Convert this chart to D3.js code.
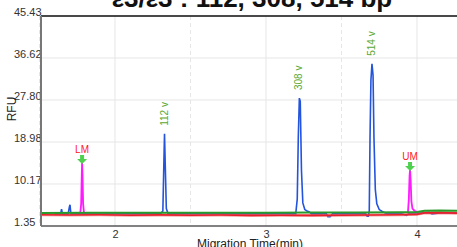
<!DOCTYPE html>
<html>
<head>
<meta charset="utf-8">
<script src="https://cdn.jsdelivr.net/npm/d3@7"></script>
<style>
  body { margin: 0; background: #fff; overflow: hidden; }
  svg { display: block; font-family: "Liberation Sans", Arial, sans-serif; }
</style>
</head>
<body>
<div id="chart"></div>
<script>
// axis ticks
const xTicks = [2, 3, 4];
const xHalfTicks = [1.5, 2.5, 3.5];
const yTicks = [1.35, 10.17, 18.98, 27.8, 36.62, 45.43];

// traces: [migration time (min), RFU]
const blueTrace = [
  [1.60, 3.9], [1.640, 3.9], [1.646, 4.9], [1.652, 3.9], [1.690, 3.9], [1.697, 5.2],
  [1.702, 5.8], [1.708, 3.9], [2.300, 3.9], [2.317, 4.5], [2.324, 15], [2.328, 20.7],
  [2.333, 14], [2.340, 5], [2.352, 3.9], [3.197, 3.9], [3.207, 7], [3.214, 20],
  [3.221, 28.2], [3.227, 27.5], [3.235, 13], [3.244, 6.2], [3.257, 4.8], [3.272, 4.5],
  [3.287, 4.3], [3.302, 3.9], [3.400, 3.9], [3.410, 3.3], [3.425, 3.3], [3.440, 3.9],
  [3.660, 3.9], [3.670, 3.4], [3.678, 3.4], [3.684, 4.5], [3.689, 20], [3.695, 32],
  [3.702, 35.4], [3.709, 33], [3.715, 20], [3.724, 9], [3.734, 6], [3.750, 4.8],
  [3.770, 4.4], [3.790, 4.1], [3.810, 3.9], [3.900, 3.9], [3.930, 3.6], [3.945, 3.9],
  [4.080, 4.2], [4.100, 3.9], [4.150, 4.1], [4.265, 4.1]
];
const pinkTrace = [
  [1.770, 4.0], [1.776, 6], [1.780, 12], [1.782, 14.6], [1.785, 12], [1.789, 6], [1.795, 4.0],
  [3.940, 4.1], [3.946, 7], [3.951, 12], [3.954, 13.1], [3.958, 11], [3.963, 6.5],
  [3.970, 5.0], [3.985, 4.5], [4.000, 4.3]
];
const redTrace = [
  [1.51, 3.7], [1.70, 3.65], [1.90, 3.7], [2.10, 3.62], [2.30, 3.68], [2.50, 3.6],
  [2.70, 3.65], [2.90, 3.58], [3.10, 3.62], [3.30, 3.58], [3.50, 3.62], [3.70, 3.66],
  [3.90, 3.72], [4.00, 3.8], [4.05, 4.1], [4.15, 4.15], [4.265, 4.05]
];
const greenTrace = [
  [1.51, 4.1], [1.80, 4.15], [2.10, 4.15], [2.40, 4.12], [2.70, 4.15], [3.00, 4.15],
  [3.30, 4.17], [3.60, 4.2], [3.90, 4.25], [4.00, 4.3], [4.05, 4.55], [4.15, 4.6], [4.265, 4.55]
];
const peakLabels = [
  { t: 2.328, v: 20.7, text: "112 v" },
  { t: 3.221, v: 28.2, text: "308 v" },
  { t: 3.702, v: 35.4, text: "514 v" }
];
const markers = [
  { t: 1.782, v: 14.6, text: "LM" },
  { t: 3.954, v: 13.1, text: "UM" }
];

const W = 457, H = 247;
const svg = d3.select("#chart").append("svg").attr("width", W).attr("height", H);

const plotLeft = 41, plotTop = 16, plotBottom = 226;
const x = d3.scaleLinear().domain([1.51, 4.265]).range([plotLeft, W]);
const y = d3.scaleLinear().domain([1.35, 45.43]).range([plotBottom, plotTop]);

// grid
svg.append("g")
  .selectAll("line")
  .data(yTicks)
  .join("line")
  .attr("x1", plotLeft).attr("x2", W)
  .attr("y1", (d) => y(d)).attr("y2", (d) => y(d))
  .attr("stroke", "#e6e6e6");
svg.append("g")
  .selectAll("line")
  .data(xTicks)
  .join("line")
  .attr("x1", (d) => x(d)).attr("x2", (d) => x(d))
  .attr("y1", plotTop).attr("y2", plotBottom)
  .attr("stroke", "#e6e6e6");
svg.append("g")
  .selectAll("line")
  .data(xHalfTicks)
  .join("line")
  .attr("x1", (d) => x(d)).attr("x2", (d) => x(d))
  .attr("y1", plotTop).attr("y2", plotBottom)
  .attr("stroke", "#e6e6e6")
  .attr("stroke-dasharray", "4,3");

// y tick labels (left aligned, baseline on grid line)
svg.append("g")
  .selectAll("text")
  .data(yTicks)
  .join("text")
  .attr("x", 14)
  .attr("y", (d) => y(d))
  .style("font-size", "11px")
  .attr("fill", "#333")
  .text((d) => d.toFixed(2));

// x axis
const xAxis = svg.append("g")
  .attr("transform", `translate(0,${plotBottom})`)
  .call(d3.axisBottom(x).tickValues(xTicks).tickSize(0).tickPadding(4).tickFormat(d3.format("d")));
xAxis.select(".domain").remove();
xAxis.selectAll("text").style("font-size", "11px").attr("fill", "#333")
  .style("font-family", "Liberation Sans, Arial, sans-serif");

const line = d3.line().x((d) => x(d[0])).y((d) => y(d[1]));

svg.append("path").datum(blueTrace).attr("d", line)
  .attr("fill", "none").attr("stroke", "#2454dc").attr("stroke-width", 1.6);
svg.append("path").datum(pinkTrace.slice(0, 7)).attr("d", line)
  .attr("fill", "none").attr("stroke", "#ff1aff").attr("stroke-width", 1.8);
svg.append("path").datum(pinkTrace.slice(7)).attr("d", line)
  .attr("fill", "none").attr("stroke", "#ff1aff").attr("stroke-width", 1.8);
svg.append("path").datum(redTrace).attr("d", line)
  .attr("fill", "none").attr("stroke", "#f06060").attr("stroke-width", 3).attr("opacity", 0.6);
svg.append("path").datum(redTrace).attr("d", line)
  .attr("fill", "none").attr("stroke", "#e8202a").attr("stroke-width", 1.6);
svg.append("path").datum(greenTrace).attr("d", line)
  .attr("fill", "none").attr("stroke", "#2a9a2a").attr("stroke-width", 2);

// size markers (green arrows + red text)
markers.forEach((m) => {
  const px = x(m.t), py = y(m.v);
  svg.append("path")
    .attr("d", `M${px - 2},${py - 8}h4v4h3l-5,5l-5,-5h3z`)
    .attr("fill", "#4fd04f");
  svg.append("text")
    .attr("x", px).attr("y", py - 10)
    .attr("text-anchor", "middle")
    .style("font-size", "10px")
    .attr("fill", "#ff2020")
    .text(m.text);
});

// peak size labels
peakLabels.forEach((p) => {
  svg.append("text")
    .attr("transform", `translate(${x(p.t) + 3},${y(p.v) - 8}) rotate(-90)`)
    .style("font-size", "10px")
    .attr("fill", "#5aa832")
    .text(p.text);
});

// frame
svg.append("line").attr("x1", plotLeft).attr("x2", W).attr("y1", plotTop).attr("y2", plotTop)
  .attr("stroke", "#111").attr("stroke-width", 1.5);
svg.append("line").attr("x1", plotLeft).attr("x2", W).attr("y1", plotBottom).attr("y2", plotBottom)
  .attr("stroke", "#111").attr("stroke-width", 1);
svg.append("line").attr("x1", plotLeft).attr("x2", plotLeft).attr("y1", plotTop).attr("y2", plotBottom)
  .attr("stroke", "#777").attr("stroke-width", 2);

// titles
svg.append("text")
  .attr("x", 252).attr("y", 7)
  .attr("text-anchor", "middle")
  .style("font-size", "26px").style("font-weight", "bold")
  .attr("fill", "#111")
  .text("ε3/ε3 : 112, 308, 514 bp");
svg.append("text")
  .attr("transform", "translate(16,109) rotate(-90)")
  .attr("text-anchor", "middle")
  .style("font-size", "12px")
  .attr("fill", "#222")
  .text("RFU");
svg.append("text")
  .attr("x", 250).attr("y", 248)
  .attr("text-anchor", "middle")
  .style("font-size", "12px")
  .attr("fill", "#222")
  .text("Migration Time(min)");
</script>
</body>
</html>
